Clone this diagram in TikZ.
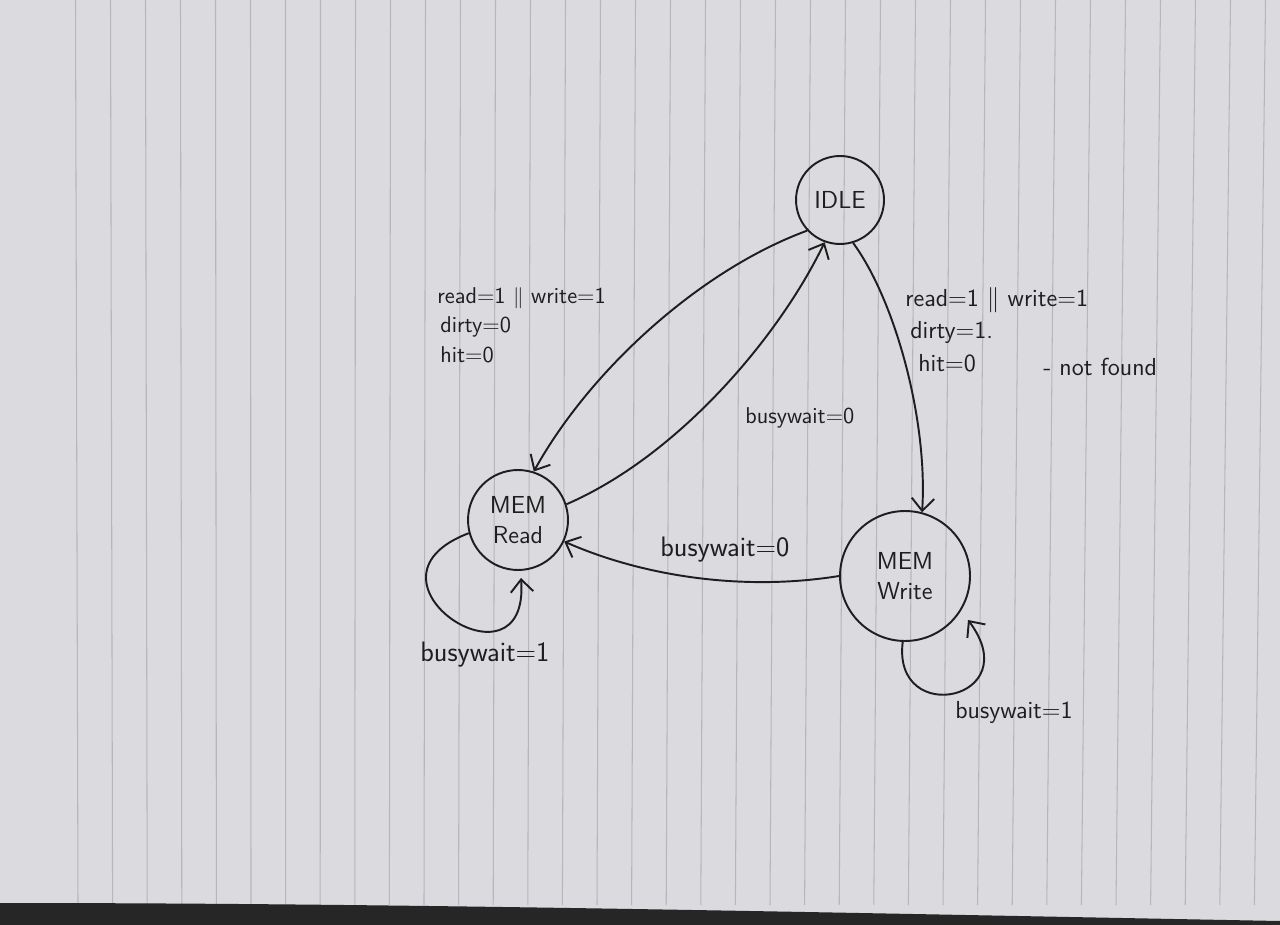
\documentclass[tikz,border=0pt]{standalone}
\usetikzlibrary{arrows.meta}
\definecolor{paper}{RGB}{218,218,223}
\definecolor{rulecol}{RGB}{182,182,188}
\definecolor{ink}{RGB}{30,30,30}
\begin{document}
\begin{tikzpicture}[x=0.02cm,y=-0.02cm,
  state/.style={circle,draw=ink,line width=1.1pt,inner sep=0pt,font=\sffamily\fontsize{14}{17}\selectfont,align=center,text=ink},
  trans/.style={draw=ink,line width=1.1pt,-{Straight Barb[length=2.5mm,width=4.5mm]}},
  lbl/.style={font=\sffamily\fontsize{13}{15}\selectfont,text=ink,inner sep=0pt,anchor=west},
  lblr/.style={lbl,font=\sffamily\fontsize{14}{16}\selectfont},
  lblb/.style={lbl,font=\sffamily\fontsize{16}{18}\selectfont}]
\useasboundingbox (0,0) rectangle (1280,925);
\begin{scope}
\clip (0,0) rectangle (1280,925);
\fill[paper] (0,0) rectangle (1280,925);
\foreach \i in {0,...,35} \draw[rulecol,line width=0.6pt] ({75.5+35*\i},0) -- ({78+34.6*\i},905);
\fill[black!85] (0,903) .. controls (400,903) and (800,912) .. (1280,921) -- (1280,925) -- (0,925) -- cycle;
\end{scope}

\node[state,minimum size=1.76cm] (idle) at (840,200) {IDLE};
\node[state,minimum size=2cm] (mread) at (518,520) {MEM\\Read};
\node[state,minimum size=2.6cm] (mwrite) at (905,576) {MEM\\Write};

\draw[trans] (idle.223) .. controls (700,270) and (590,370) .. (mread.72);
\draw[trans] (mread.18) .. controls (680,455) and (780,335) .. (idle.250);
\draw[trans] (idle.287) .. controls (895,300) and (928,420) .. (mwrite.75);
\draw[trans] (mwrite.180) .. controls (740,592) and (640,575) .. (mread.335);
\coordinate (rl) at (521,578);
\draw[trans] (mread.195) .. controls (345,580) and (530,700) .. (rl);
\coordinate (wl) at (968,620);
\draw[trans] (mwrite.268) .. controls (892,728) and (1028,700) .. (wl);

\node[lbl] (l1) at (437,298) {read=1 $\|$ write=1};
\node[lbl] (l2) at (440,327) {dirty=0};
\node[lbl] (l3) at (440,355) {hit=0};
\node[lblr] (r1) at (905,300) {read=1 $\|$ write=1};
\node[lblr] (r2) at (910,332) {dirty=1.};
\node[lblr] (r3) at (918,363) {hit=0};
\node[lblr] (r4) at (1043,367) {- not found};
\node[lbl] (m1) at (745,418) {busywait=0};
\node[lblb] (b1) at (660,550) {busywait=0};
\node[lblb] (b2) at (420,655) {busywait=1};
\node[lbl,font=\sffamily\fontsize{14}{16}\selectfont] (b3) at (955,712) {busywait=1};
\end{tikzpicture}
\end{document}
